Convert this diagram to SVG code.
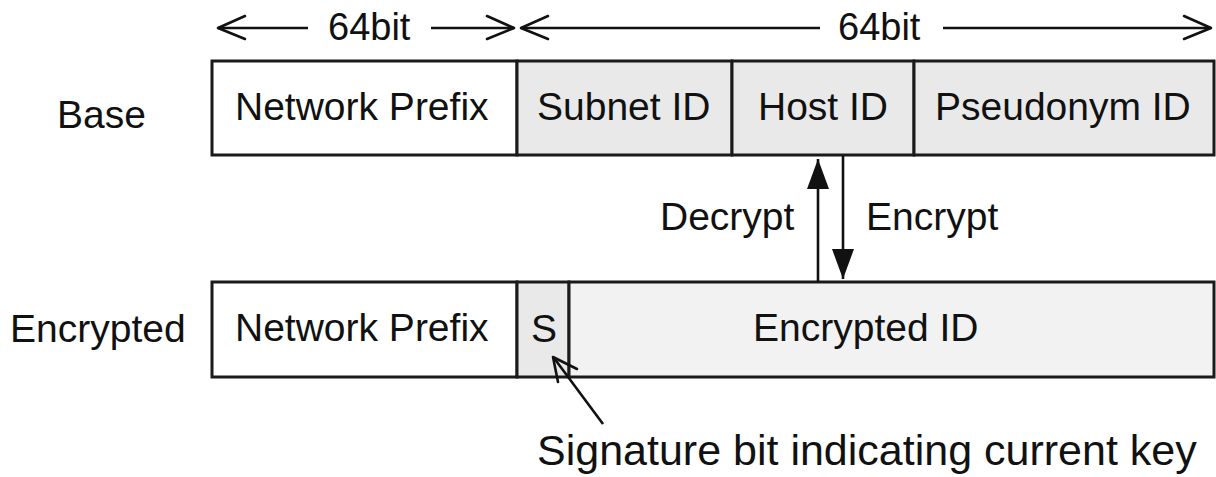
<svg xmlns="http://www.w3.org/2000/svg" width="1216" height="477" viewBox="0 0 1216 477">
  <style>
    text { font-family: "Liberation Sans", Arial, Helvetica, sans-serif; font-size: 39px; fill: #111; }
    .cell { stroke: #1a1a1a; stroke-width: 3; }
    .white { fill: #ffffff; }
    .grey { fill: #e9e9e9; }
    .light { fill: #f2f2f2; }
    .line { stroke: #111; stroke-width: 2.6; fill: none; }
    .open { stroke: #111; stroke-width: 2.6; fill: none; stroke-linecap: round; stroke-linejoin: round; }
  </style>
  <defs>
    <marker id="solid" viewBox="0 0 30 22" refX="30" refY="11" markerWidth="30" markerHeight="22" markerUnits="userSpaceOnUse" orient="auto">
      <path d="M0,0 L30,11 L0,22 Z" fill="#111"/>
    </marker>
  </defs>

  <rect width="1216" height="477" fill="#ffffff"/>

  <!-- row labels -->
  <g id="label-base"><text x="57" y="128">Base</text></g>
  <g id="label-encrypted"><text x="10" y="342">Encrypted</text></g>

  <!-- base address -->
  <g id="base-network-prefix">
    <rect class="cell white" x="212" y="61" width="305" height="94"/>
    <text x="235" y="120">Network Prefix</text>
  </g>
  <g id="base-subnet-id">
    <rect class="cell grey" x="517" y="61" width="215" height="94"/>
    <text x="537" y="120">Subnet ID</text>
  </g>
  <g id="base-host-id">
    <rect class="cell grey" x="732" y="61" width="182" height="94"/>
    <text x="758" y="120">Host ID</text>
  </g>
  <g id="base-pseudonym-id">
    <rect class="cell grey" x="914" y="61" width="300" height="94"/>
    <text x="935" y="120">Pseudonym ID</text>
  </g>

  <!-- encrypted address -->
  <g id="enc-network-prefix">
    <rect class="cell white" x="212" y="282" width="305" height="95"/>
    <text x="235" y="341">Network Prefix</text>
  </g>
  <g id="enc-signature-bit">
    <rect class="cell grey" x="517" y="282" width="52" height="95"/>
    <text x="531" y="342">S</text>
  </g>
  <g id="enc-encrypted-id">
    <rect class="cell light" x="569" y="282" width="645" height="95"/>
    <text x="753" y="341">Encrypted ID</text>
  </g>

  <!-- width annotations -->
  <g id="dim-prefix">
    <line class="line" x1="218" y1="28" x2="308" y2="28"/>
    <polyline class="open" points="245,16 218,28 245,39"/>
    <text x="328" y="40" style="font-size:38px">64bit</text>
    <line class="line" x1="431" y1="28" x2="514" y2="28"/>
    <polyline class="open" points="487,16 514,28 487,39"/>
  </g>
  <g id="dim-interface">
    <line class="line" x1="521" y1="28" x2="820" y2="28"/>
    <polyline class="open" points="548,16 521,28 548,39"/>
    <text x="838" y="40" style="font-size:38px">64bit</text>
    <line class="line" x1="943" y1="28" x2="1211" y2="28"/>
    <polyline class="open" points="1184,16 1211,28 1184,39"/>
  </g>

  <!-- connectors -->
  <g id="connectors">
    <line class="line" x1="818" y1="282" x2="818" y2="159" marker-end="url(#solid)"/>
    <line class="line" x1="843" y1="155" x2="843" y2="279" marker-end="url(#solid)"/>
    <line class="line" x1="603" y1="424" x2="554" y2="358"/>
    <polyline class="open" points="558,382 553,357 577,369"/>
  </g>
  <g id="arrow-labels">
    <text x="660" y="230">Decrypt</text>
    <text x="866" y="230">Encrypt</text>
  </g>

  <!-- annotation -->
  <g id="note-signature">
    <text x="537" y="465" style="font-size:43px">Signature bit indicating current key</text>
  </g>
</svg>
